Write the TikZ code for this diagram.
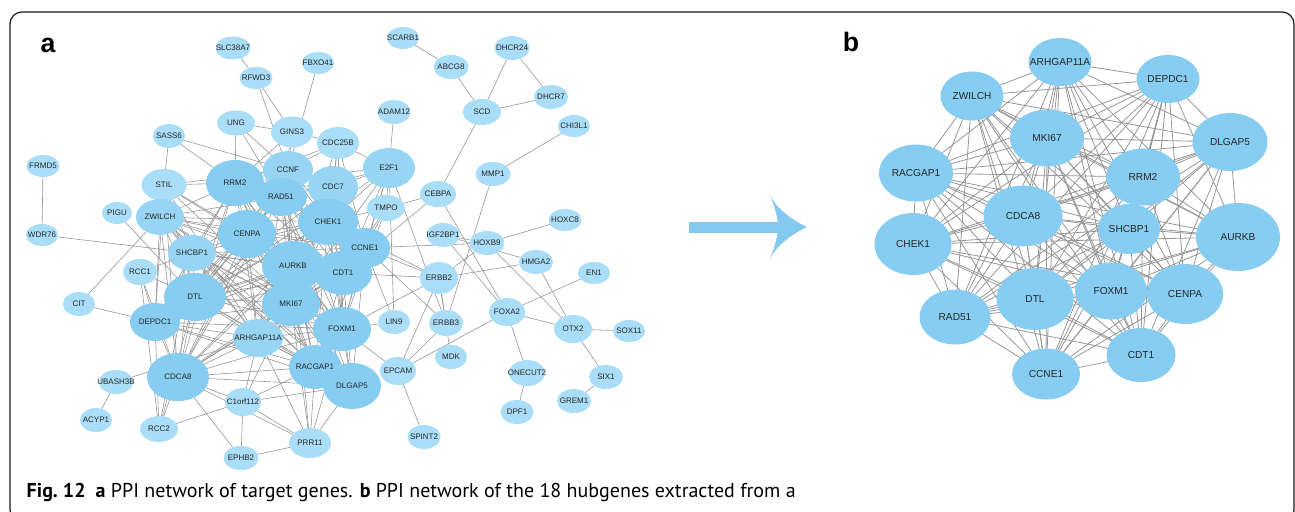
\documentclass[tikz,border=0pt]{standalone}
\usepackage{fontspec}
\setmainfont{Liberation Sans}
\newfontfamily\capfont{PT Sans}
\usetikzlibrary{shapes.geometric,backgrounds}

\definecolor{genelite}{RGB}{170,221,247}
\definecolor{genemid}{RGB}{152,213,244}
\definecolor{genedark}{RGB}{135,205,241}
\definecolor{edgegray}{RGB}{150,150,150}
\definecolor{arrowblue}{RGB}{132,201,240}

\begin{document}
\begin{tikzpicture}[
  x=0.75pt,y=-0.75pt,
  gene/.style={ellipse, inner xsep=-9pt, inner ysep=0pt, outer sep=0pt, text=black!85, font=\fontsize{6}{6}\selectfont},
  hub/.style={gene, fill=genedark, font=\fontsize{7.6}{7.6}\selectfont},
  sz/.style 2 args={minimum width=#1*0.75pt, minimum height=#2*0.75pt},
  ppi/.style={draw=edgegray, line width=0.45pt},
  ppib/.style={draw=edgegray, line width=0.6pt},
  panel/.style={font=\bfseries\fontsize{20}{20}\selectfont}
]
\useasboundingbox (0,0) rectangle (1295,511);
\begin{scope}
  \clip (0,0) rectangle (1295,511);
  \draw[black!90, line width=0.9pt, rounded corners=9pt] (10,12) rectangle (1294,522);
\end{scope}

\node[panel] (labela) at (48,45) {a};
\node[panel] (labelb) at (851,42) {b};

% panel a: genes
\foreach \n/\x/\y/\w/\h/\c in {
  SLC38A7/233/48/35/23/genelite, FBXO41/318/63/32/22/genelite, RFWD3/256/78/33/22/genelite,
  SCARB1/403/38/32/22/genelite, ABCG8/451/67/35/24/genelite, DHCR24/512/48/35/24/genelite,
  DHCR7/551/97/34/24/genelite, SCD/482/112/38/26/genelite, ADAM12/394/112/33/24/genelite,
  CHI3L1/574/126/32/22/genelite, UNG/236/123/38/25/genelite, GINS3/292/132/42/31/genelite,
  SASS6/169/136/32/24/genelite, CDC25B/338/143/42/32/genelite, FRMD5/43/166/33/22/genelite,
  CCNF/288/170/50/38/genemid, E2F1/389/168/52/40/genemid, MMP1/493/174/35/24/genelite,
  STIL/164/185/45/32/genelite, RRM2/235/183/58/46/genedark, CDC7/333/187/50/42/genemid,
  RAD51/281/197/52/38/genedark, CEBPA/438/194/36/26/genelite, TMPO/386/208/38/26/genelite,
  PIGU/117/213/30/22/genelite, ZWILCH/160/217/48/36/genemid, HOXC8/565/220/33/22/genelite,
  CHEK1/328/222/60/46/genedark, CENPA/247/234/58/48/genedark, WDR76/42/235/32/22/genelite,
  IGF2BP1/443/235/33/24/genelite, HOXB9/487/243/35/24/genelite, CCNE1/365/248/50/40/genedark,
  SHCBP1/192/253/48/36/genemid, HMGA2/536/262/34/24/genelite, AURKB/293/266/62/50/genedark,
  RCC1/140/272/34/26/genelite, CDT1/343/273/58/44/genedark, EN1/594/273/32/22/genelite,
  ERBB2/439/278/38/32/genelite, DTL/195/297/62/48/genedark, CIT/79/304/32/24/genelite,
  MKI67/291/304/58/44/genedark, FOXA2/507/312/36/28/genelite, DEPDC1/155/322/50/38/genedark,
  LIN9/394/322/32/24/genelite, ERBB3/446/323/34/26/genelite, FOXM1/342/329/58/44/genedark,
  OTX2/573/329/38/28/genelite, SOX11/629/331/32/22/genelite, ARHGAP11A/258/338/50/38/genemid,
  MDK/451/357/32/24/genelite, RACGAP1/315/367/52/44/genedark, EPCAM/398/371/36/28/genelite,
  ONECUT2/527/373/36/26/genelite, CDCA8/178/377/62/48/genedark, SIX1/606/377/34/24/genelite,
  UBASH3B/116/382/34/24/genelite, DLGAP5/352/386/58/46/genedark, GREM1/574/401/34/24/genelite,
  C1orf112/243/402/36/28/genelite, DPF1/517/412/33/24/genelite, ACYP1/96/420/32/24/genelite,
  RCC2/159/429/38/26/genelite, SPINT2/424/437/33/24/genelite, PRR11/310/443/42/30/genelite,
  EPHB2/241/458/35/24/genelite}
  \node[gene, fill=\c, sz={\w}{\h}] (\n) at (\x,\y) {\n};

% panel b: hub genes
\foreach \n/\x/\y/\w/\h in {
  ARHGAP11A/1060/62/63/48, DEPDC1/1168/79/63/48, ZWILCH/972/96/63/49,
  MKI67/1047/138/74/57, DLGAP5/1230/142/75/58, RACGAP1/916/173/74/57,
  RRM2/1143/177/74/57, CDCA8/1023/216/79/61, SHCBP1/1129/229/62/50,
  AURKB/1238/237/84/68, CHEK1/913/244/77/62, DTL/1035/299/77/62,
  FOXM1/1111/291/72/57, CENPA/1185/294/76/60, RAD51/955/317/71/55,
  CDT1/1141/355/69/54, CCNE1/1046/374/68/51}
  \node[hub, sz={\w}{\h}] (b\n) at (\x,\y) {\n};

\coordinate (arrowfrom) at (689,227);
\coordinate (arrowto) at (807,227);
\draw[arrowblue, line width=8.25pt] (arrowfrom) -- (778,227);
\fill[arrowblue] (arrowto) .. controls (788,236) and (775,248) .. (770,259)
  .. controls (775,246) and (778,236) .. (778,227)
  .. controls (778,218) and (775,208) .. (770,195)
  .. controls (775,206) and (788,218) .. (arrowto);

\node[anchor=base west, font=\capfont\fontsize{15}{17}\selectfont] (caption) at (22,497)
  {\textbf{Fig.~12}\enspace\textbf{a} PPI network of target genes. \textbf{b} PPI network of the 18 hubgenes extracted from a};

\begin{pgfonlayer}{background}
  % dense core of panel a
  \foreach \a [count=\i] in {ARHGAP11A,DEPDC1,ZWILCH,MKI67,DLGAP5,RACGAP1,RRM2,CDCA8,SHCBP1,AURKB,CHEK1,DTL,FOXM1,CENPA,RAD51,CDT1,CCNE1}
    \foreach \b [count=\j] in {ARHGAP11A,DEPDC1,ZWILCH,MKI67,DLGAP5,RACGAP1,RRM2,CDCA8,SHCBP1,AURKB,CHEK1,DTL,FOXM1,CENPA,RAD51,CDT1,CCNE1}
      {\ifnum\j>\i \draw[ppi] (\a) -- (\b); \fi
       \ifnum\j>\i \draw[ppib] (b\a) -- (b\b); \fi}
  \foreach \a/\b in {
    CCNF/RRM2, CCNF/RAD51, CCNF/CDC7, CCNF/CHEK1, CCNF/CENPA, CCNF/AURKB, CCNF/CCNE1, CCNF/CDT1,
    CCNF/MKI67, CCNF/DTL, CCNF/FOXM1, CCNF/CDCA8, CCNF/GINS3, CCNF/UNG, CCNF/SASS6, CCNF/RFWD3,
    CCNF/FBXO41, CCNF/STIL,
    CDC7/RRM2, CDC7/RAD51, CDC7/CHEK1, CDC7/CCNE1, CDC7/CDT1, CDC7/FOXM1, CDC7/E2F1, CDC7/CDC25B,
    CDC7/MKI67, CDC7/DTL, CDC7/AURKB,
    STIL/ZWILCH, STIL/SHCBP1, STIL/RRM2, STIL/CENPA, STIL/DTL, STIL/AURKB, STIL/MKI67, STIL/CDCA8,
    STIL/DEPDC1, STIL/SASS6, STIL/ARHGAP11A,
    E2F1/CHEK1, E2F1/CCNE1, E2F1/CDT1, E2F1/RRM2, E2F1/RAD51, E2F1/FOXM1, E2F1/CDC25B, E2F1/TMPO,
    E2F1/ADAM12, E2F1/LIN9, E2F1/MKI67, E2F1/DTL, E2F1/ERBB3,
    TMPO/CHEK1, TMPO/CCNE1, TMPO/CDT1, TMPO/CEBPA, TMPO/FOXM1,
    CDC25B/CHEK1, CDC25B/CCNE1, CDC25B/CDT1, CDC25B/AURKB, CDC25B/FOXM1, CDC25B/GINS3, CDC25B/CCNF,
    CDC25B/RRM2,
    GINS3/RAD51, GINS3/RRM2, GINS3/UNG, GINS3/RFWD3, UNG/RRM2, UNG/RAD51, SASS6/RRM2,
    RFWD3/SLC38A7, FRMD5/WDR76, WDR76/SHCBP1, PIGU/DTL, CIT/DEPDC1, CIT/ZWILCH,
    RCC1/DTL, RCC1/DEPDC1, RCC1/RCC2, RCC1/SHCBP1, RCC1/CDCA8,
    UBASH3B/ACYP1, UBASH3B/ARHGAP11A,
    RCC2/CDCA8, RCC2/C1orf112, RCC2/DEPDC1, RCC2/DTL, RCC2/SHCBP1,
    C1orf112/CDCA8, C1orf112/PRR11, C1orf112/RACGAP1, C1orf112/ARHGAP11A, C1orf112/EPHB2,
    C1orf112/DLGAP5, C1orf112/MKI67,
    EPHB2/PRR11, EPHB2/CDCA8,
    PRR11/CDCA8, PRR11/RACGAP1, PRR11/MKI67, PRR11/ARHGAP11A, PRR11/DLGAP5, PRR11/AURKB, PRR11/FOXM1,
    LIN9/FOXM1, LIN9/CCNE1,
    ERBB2/ERBB3, ERBB2/MDK, ERBB2/EPCAM, ERBB2/CDT1, ERBB2/CCNE1, ERBB2/FOXM1, ERBB2/HOXB9,
    ERBB2/HMGA2, ERBB2/CHEK1,
    ERBB3/EPCAM, ERBB3/MMP1, ERBB3/CCNE1,
    EPCAM/FOXM1, EPCAM/SPINT2, EPCAM/FOXA2,
    CEBPA/SCD, CEBPA/FOXA2, CEBPA/CDT1,
    SCD/ABCG8, SCD/DHCR24, SCD/DHCR7, SCARB1/ABCG8, DHCR24/DHCR7, MMP1/CHI3L1,
    HOXB9/HOXC8, HOXB9/IGF2BP1, HOXB9/OTX2, HOXB9/CCNE1, IGF2BP1/HMGA2, IGF2BP1/FOXA2,
    FOXA2/EN1, FOXA2/OTX2, FOXA2/ONECUT2,
    OTX2/SOX11, OTX2/SIX1, OTX2/HMGA2, SIX1/GREM1, ONECUT2/DPF1}
    \draw[ppi] (\a) -- (\b);
\end{pgfonlayer}
\end{tikzpicture}
\end{document}
